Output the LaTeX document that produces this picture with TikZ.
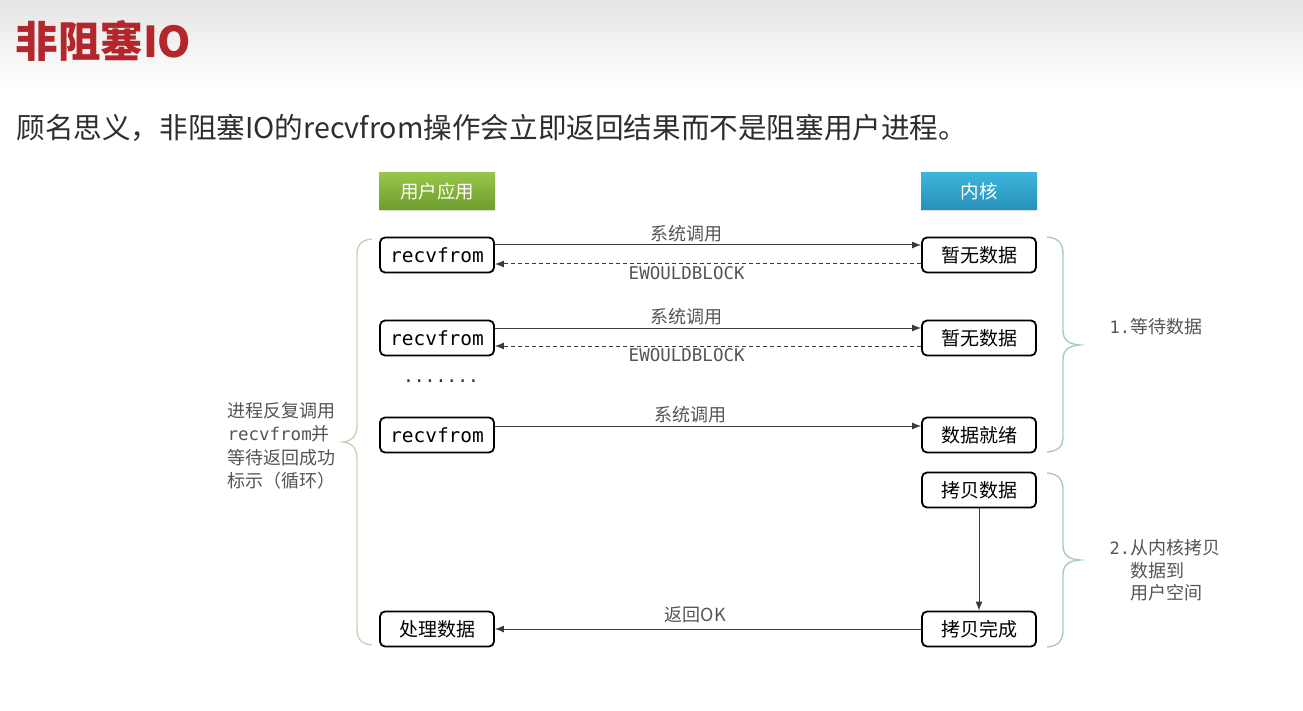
\documentclass[tikz,border=0pt]{standalone}
\usepackage{fontspec}
\setmainfont{Noto Sans CJK SC}
\setmonofont{DejaVu Sans Mono}
\usetikzlibrary{arrows.meta,shadows}
\definecolor{titlered}{HTML}{B3262C}
\definecolor{bodytext}{HTML}{2E2E2E}
\definecolor{labeltext}{HTML}{555555}
\definecolor{linegray}{HTML}{3A3A3A}
\definecolor{greentop}{HTML}{98C64A}
\definecolor{greenbot}{HTML}{6E9E2C}
\definecolor{bluetop}{HTML}{3DB4DA}
\definecolor{bluebot}{HTML}{2592BC}
\definecolor{leftbrace}{HTML}{CDD3B6}
\definecolor{rightbrace}{HTML}{A9CACC}
\tikzset{
  box/.style={draw=black, line width=1.8pt, rounded corners=5pt, fill=white,
    minimum width=114pt, minimum height=35pt, inner sep=0pt, font=\fontsize{19}{20}\selectfont},
  monobox/.style={box, font=\ttfamily\fontsize{19.5}{20}\selectfont},
  headbox/.style={minimum width=116pt, minimum height=37pt, inner sep=0pt, text=white,
    font=\fontsize{18.5}{20}\selectfont, drop shadow={opacity=0.25, shadow xshift=0pt, shadow yshift=-2pt}},
  call/.style={draw=linegray, line width=1pt, -{Latex[length=9pt,width=7pt]}},
  reply/.style={call, dashed, dash pattern=on 4pt off 3pt},
  lbl/.style={text=labeltext, font=\fontsize{18}{20}\selectfont},
  monolbl/.style={text=labeltext, font=\ttfamily\fontsize{17.5}{19}\selectfont},
  brace/.style={line width=1.4pt}
}
\begin{document}
\begin{tikzpicture}[x=1pt,y=-1pt]
\useasboundingbox (0,0) rectangle (1303,711);
\fill[white] (0,0) rectangle (1303,711);
% title band
\shade[top color=black!10, bottom color=white] (0,0) rectangle (1303,88);
\node[anchor=west, text=titlered, font=\bfseries\fontsize{42.5}{44}\selectfont] (title) at (12,41) {非阻塞IO};
\node[anchor=west, text=bodytext, font=\fontsize{28.6}{30}\selectfont] (intro) at (13,128)
  {顾名思义，非阻塞IO的recvfrom操作会立即返回结果而不是阻塞用户进程。};

% column headers
\node[headbox, top color=greentop, bottom color=greenbot] (user) at (437,191) {用户应用};
\node[headbox, top color=bluetop, bottom color=bluebot] (kernel) at (979,191) {内核};

% user side
\node[monobox] (r1) at (437,255) {recvfrom};
\node[monobox] (r2) at (437,338) {recvfrom};
\node[monobox] (r3) at (437,435) {recvfrom};
\node[box] (done) at (437,629) {处理数据};
\node[font=\ttfamily\fontsize{18}{18}\selectfont, text=bodytext] (dots) at (441,381) {.......};

% kernel side
\node[box] (k1) at (979,255) {暂无数据};
\node[box] (k2) at (979,338) {暂无数据};
\node[box] (k3) at (979,435) {数据就绪};
\node[box] (k4) at (979,490) {拷贝数据};
\node[box] (k5) at (979,629) {拷贝完成};

% system calls and replies
\draw[call] ([yshift=10pt]r1.east) -- node[lbl, above=-1pt, pos=0.45] {系统调用} ([yshift=10pt]k1.west);
\draw[reply] ([yshift=-9pt]k1.west) -- node[monolbl, below=-1pt, pos=0.55] {EWOULDBLOCK} ([yshift=-9pt]r1.east);
\draw[call] ([yshift=10pt]r2.east) -- node[lbl, above=-1pt, pos=0.45] {系统调用} ([yshift=10pt]k2.west);
\draw[reply] ([yshift=-8pt]k2.west) -- node[monolbl, below=-1pt, pos=0.55] {EWOULDBLOCK} ([yshift=-8pt]r2.east);
\draw[call] ([yshift=9pt]r3.east) -- node[lbl, above=-1pt, pos=0.46] {系统调用} ([yshift=9pt]k3.west);
\draw[call] (k4.south) -- (k5.north);
\draw[call] (k5.west) -- node[lbl, above=2pt, pos=0.53] {返回OK} (done.east);

% left brace and note
\draw[brace, leftbrace] (372,239) .. controls (360,240) and (357,246) .. (357,256)
  -- (357,425) .. controls (357,436) and (352,441) .. (343,442)
  .. controls (352,443) and (357,448) .. (357,459)
  -- (357,628) .. controls (357,638) and (360,644) .. (372,645);
\node[anchor=west, align=left, text=labeltext, font=\fontsize{18}{23.5}\selectfont] (loop) at (224,446)
  {进程反复调用\\{\ttfamily\fontsize{17.5}{23.5}\selectfont recvfrom}并\\等待返回成功\\标示（循环）};

% right braces and notes
\draw[brace, rightbrace] (1047,237) .. controls (1059,238) and (1063,244) .. (1063,254)
  -- (1063,330) .. controls (1063,340) and (1068,344) .. (1080,345)
  .. controls (1068,346) and (1063,350) .. (1063,360)
  -- (1063,436) .. controls (1063,446) and (1059,451) .. (1047,452);
\node[anchor=west, text=labeltext, font=\fontsize{18}{20}\selectfont] (phase1) at (1106,327)
  {{\ttfamily\fontsize{17}{20}\selectfont 1.}等待数据};

\draw[brace, rightbrace] (1047,473) .. controls (1059,474) and (1063,480) .. (1063,490)
  -- (1063,545) .. controls (1063,555) and (1068,559) .. (1080,560)
  .. controls (1068,561) and (1063,565) .. (1063,575)
  -- (1063,630) .. controls (1063,640) and (1059,646) .. (1047,647);
\node[anchor=north west, align=left, text=labeltext, font=\fontsize{18}{22.5}\selectfont] (phase2) at (1106,536)
  {{\ttfamily\fontsize{17}{20}\selectfont 2.}从内核拷贝\\\phantom{\ttfamily\fontsize{17}{20}\selectfont 2.}数据到\\\phantom{\ttfamily\fontsize{17}{20}\selectfont 2.}用户空间};
\end{tikzpicture}
\end{document}
